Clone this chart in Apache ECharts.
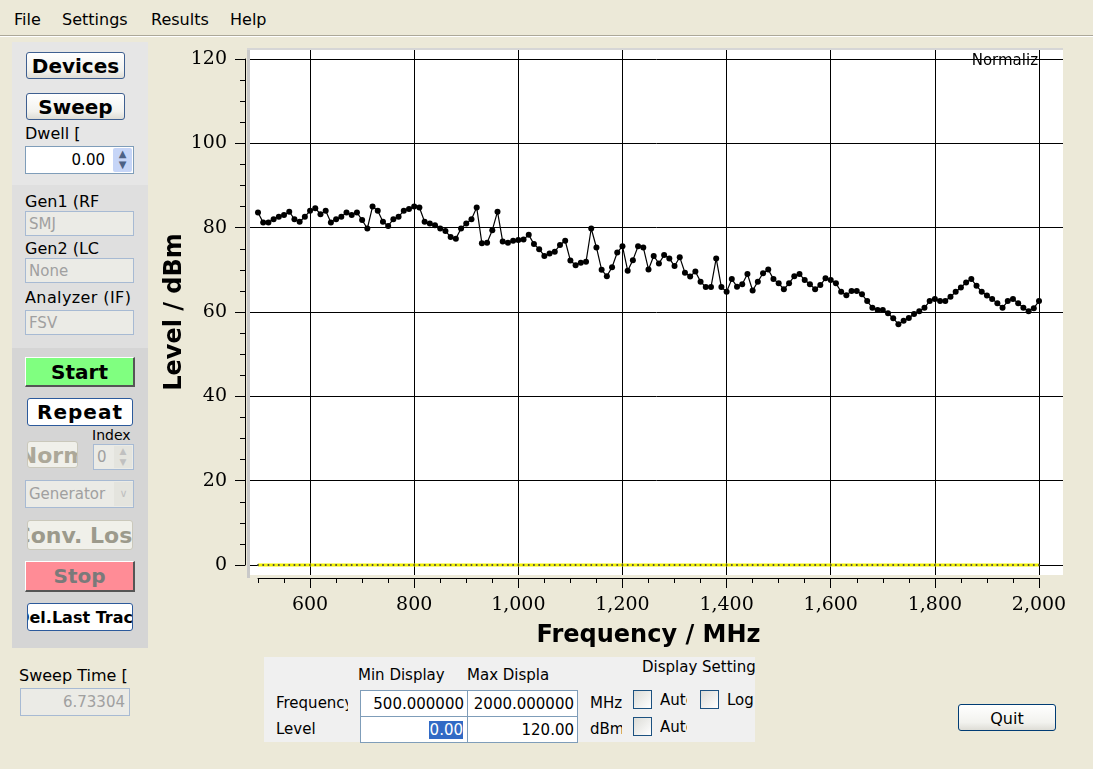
<!DOCTYPE html>
<html>
<head>
<meta charset="utf-8">
<script src="https://cdn.jsdelivr.net/npm/echarts@6.0.0/dist/echarts.min.js"></script>
<style>
  html, body { margin:0; padding:0; }
  body { width:1093px; height:769px; overflow:hidden; background:#ECE9D8; position:relative;
         font-family:"DejaVu Sans", sans-serif; color:#000; }
  .abs { position:absolute; white-space:nowrap; }
  .menu { top:10px; font-size:16px; }
  .menubar { position:absolute; left:0; top:35px; width:1093px; height:0; border-top:1px solid #ACA899; border-bottom:1px solid #fff; }
  .lbl { font-size:15px; line-height:18px; }
  .plbl { font-size:16px; line-height:18px; }
  .btn, .btn3d, .dis { position:absolute; box-sizing:border-box; overflow:hidden; white-space:nowrap;
         font-weight:bold; font-size:20px; }
  .btn { border:1px solid #3E5F90; border-radius:3px; background:linear-gradient(#FFFFFF, #F2F2EE 70%, #DEDDD6); }
  .btn3d { border-top:1px solid #fff; border-left:1px solid #fff; border-right:2px solid #555; border-bottom:2px solid #555; }
  .dis { border:1px solid #CAC8BB; border-radius:3px; background:#F0F0EA; color:#ACA899; font-size:22px; }
  .ctr { position:absolute; left:50%; top:50%; transform:translate(-50%,-50%); white-space:nowrap; }
  .box { position:absolute; box-sizing:border-box; border:1px solid #7F9DB9; background:#fff; font-size:15px;
         overflow:hidden; white-space:nowrap; display:flex; align-items:center; }
  .dbox { position:absolute; box-sizing:border-box; border:1px solid #A7BAD3; background:#EBEBE6; color:#A0A0A0;
          font-size:15px; overflow:hidden; white-space:nowrap; display:flex; align-items:center; padding-left:3px; }
  .chk { position:absolute; box-sizing:border-box; width:19px; height:19px; border:1px solid #1C5180;
         background:linear-gradient(135deg,#DCDCD7,#FFFFFF); }
  #chart { position:absolute; left:0; top:0; width:1093px; height:769px; z-index:2; }
</style>
</head>
<body>
<!-- menu -->
<div class="abs menu" style="left:14px;">File</div>
<div class="abs menu" style="left:62px;">Settings</div>
<div class="abs menu" style="left:151px;">Results</div>
<div class="abs menu" style="left:230px;">Help</div>
<div class="menubar"></div>

<!-- plot frame bevel -->
<div class="abs" style="left:247px;top:48px;width:3px;height:530px;background:#C9C9C9;"></div>
<div class="abs" style="left:247px;top:48px;width:816px;height:2px;background:#D6D6D6;"></div>

<!-- left panel -->
<div class="abs" style="left:12px;top:42px;width:136px;height:143px;background:#E6E6E6;"></div>
<div class="abs" style="left:12px;top:185px;width:136px;height:163px;background:#DFDFDF;"></div>
<div class="abs" style="left:12px;top:348px;width:136px;height:300px;background:#D5D5D5;"></div>

<div class="btn" style="left:26px;top:52px;width:99px;height:27px;"><span class="ctr">Devices</span></div>
<div class="btn" style="left:26px;top:93px;width:99px;height:27px;"><span class="ctr">Sweep</span></div>
<div class="abs plbl" style="left:25px;top:125px;">Dwell [</div>
<div class="box" style="left:25px;top:146px;width:109px;height:28px;justify-content:flex-end;padding-right:28px;">0.00</div>
<div class="abs" style="left:113px;top:148px;width:19px;height:24px;background:#C6D5F7;border-radius:2px;font-size:10px;line-height:11px;text-align:center;color:#4D6185;">&#9650;<br>&#9660;</div>

<div class="abs plbl" style="left:25px;top:193px;">Gen1 (RF</div>
<div class="dbox" style="left:25px;top:211px;width:109px;height:25px;">SMJ</div>
<div class="abs plbl" style="left:25px;top:240px;">Gen2 (LC</div>
<div class="dbox" style="left:25px;top:258px;width:109px;height:25px;">None</div>
<div class="abs plbl" style="left:25px;top:289px;width:109px;overflow:hidden;letter-spacing:0.4px;">Analyzer (IF)</div>
<div class="dbox" style="left:25px;top:310px;width:109px;height:25px;">FSV</div>

<div class="btn3d" style="left:25px;top:357px;width:110px;height:30px;background:#80FF80;"><span class="ctr">Start</span></div>
<div class="btn" style="left:27px;top:398px;width:106px;height:28px;background:#fff;border-color:#2C5A9C;letter-spacing:1px;"><span class="ctr">Repeat</span></div>
<div class="abs" style="left:92px;top:427px;font-size:14px;">Index</div>
<div class="dis" style="left:27px;top:441px;width:51px;height:27px;"><span class="ctr">Norm</span></div>
<div class="dbox" style="left:93px;top:444px;width:41px;height:26px;">0</div>
<div class="abs" style="left:114px;top:446px;width:18px;height:22px;background:#E4E4DE;font-size:9px;line-height:11px;text-align:center;color:#C0C0C0;">&#9650;<br>&#9660;</div>
<div class="dbox" style="left:25px;top:480px;width:109px;height:28px;">Generator</div>
<div class="abs" style="left:114px;top:482px;width:19px;height:24px;background:#E4E4DE;font-size:11px;line-height:24px;text-align:center;color:#C0C0C0;">&#8744;</div>
<div class="dis" style="left:27px;top:520px;width:106px;height:30px;color:#9C9A8C;"><span class="ctr">Conv. Loss</span></div>
<div class="btn3d" style="left:25px;top:561px;width:110px;height:31px;background:#FF8C96;color:#7A7A7A;"><span class="ctr">Stop</span></div>
<div class="btn" style="left:27px;top:603px;width:106px;height:28px;background:#fff;border-color:#2C5A9C;font-size:16px;"><span class="ctr">Del.Last Trace</span></div>

<div class="abs" style="left:19px;top:666px;font-size:16px;">Sweep Time [</div>
<div class="dbox" style="left:20px;top:688px;width:110px;height:28px;justify-content:flex-end;padding-right:4px;">6.73304</div>

<!-- bottom settings panel -->
<div class="abs" style="left:264px;top:657px;width:491px;height:85px;background:#F0F0F0;"></div>
<div class="abs lbl" style="left:358px;top:666px;width:100px;overflow:hidden;">Min Display</div>
<div class="abs lbl" style="left:467px;top:666px;">Max Displa</div>
<div class="abs lbl" style="left:642px;top:658px;width:113px;overflow:hidden;">Display Settings</div>
<div class="abs lbl" style="left:276px;top:694px;width:72px;overflow:hidden;">Frequency</div>
<div class="abs lbl" style="left:276px;top:720px;">Level</div>
<div class="box" style="left:360px;top:690px;width:108px;height:27px;justify-content:flex-end;padding-right:3px;">500.000000</div>
<div class="box" style="left:467px;top:690px;width:111px;height:27px;justify-content:flex-end;padding-right:3px;">2000.000000</div>
<div class="box" style="left:360px;top:716px;width:108px;height:27px;justify-content:flex-end;padding-right:4px;"><span style="background:#316AC5;color:#fff;padding-left:1px;">0.00</span></div>
<div class="box" style="left:467px;top:716px;width:111px;height:27px;justify-content:flex-end;padding-right:3px;">120.00</div>
<div class="abs lbl" style="left:590px;top:694px;width:32px;overflow:hidden;">MHz</div>
<div class="abs lbl" style="left:590px;top:720px;width:32px;overflow:hidden;">dBm</div>
<div class="chk" style="left:633px;top:690px;"></div>
<div class="abs lbl" style="left:660px;top:691px;width:27px;overflow:hidden;">Auto</div>
<div class="chk" style="left:700px;top:690px;"></div>
<div class="abs lbl" style="left:727px;top:691px;width:28px;overflow:hidden;">Log</div>
<div class="chk" style="left:633px;top:717px;"></div>
<div class="abs lbl" style="left:660px;top:718px;width:27px;overflow:hidden;">Auto</div>

<div class="btn" style="left:958px;top:704px;width:98px;height:27px;font-weight:normal;font-size:16px;border-color:#003C74;"><span class="ctr">Quit</span></div>

<div id="chart"></div>

<script>
// ---- data ----
const freqMHz = [
  500,510,520,530,540,550,560,570,580,590,
  600,610,620,630,640,650,660,670,680,690,
  700,710,720,730,740,750,760,770,780,790,
  800,810,820,830,840,850,860,870,880,890,
  900,910,920,930,940,950,960,970,980,990,
  1000,1010,1020,1030,1040,1050,1060,1070,1080,1090,
  1100,1110,1120,1130,1140,1150,1160,1170,1180,1190,
  1200,1210,1220,1230,1240,1250,1260,1270,1280,1290,
  1300,1310,1320,1330,1340,1350,1360,1370,1380,1390,
  1400,1410,1420,1430,1440,1450,1460,1470,1480,1490,
  1500,1510,1520,1530,1540,1550,1560,1570,1580,1590,
  1600,1610,1620,1630,1640,1650,1660,1670,1680,1690,
  1700,1710,1720,1730,1740,1750,1760,1770,1780,1790,
  1800,1810,1820,1830,1840,1850,1860,1870,1880,1890,
  1900,1910,1920,1930,1940,1950,1960,1970,1980,1990,
  2000
];
const levelDbm = [
  83.6,81.2,81.2,82.0,82.6,83.0,83.8,82.0,81.4,82.6,
  84.0,84.6,83.2,84.0,81.2,82.0,82.6,83.6,83.0,83.6,
  81.8,79.8,85.0,84.0,81.4,80.4,82.0,82.6,84.0,84.4,
  85.0,84.8,81.4,81.0,80.6,79.8,79.2,77.8,77.4,79.8,
  81.0,82.0,84.8,76.3,76.4,79.4,83.8,76.7,76.4,76.9,
  77.1,77.2,78.3,76.1,74.9,73.3,73.9,74.3,75.9,76.9,
  72.2,71.1,71.7,71.9,79.8,75.3,70.0,68.5,70.6,74.1,
  75.6,69.8,72.3,75.6,75.3,70.1,73.3,71.5,73.5,72.7,
  70.9,73.0,69.3,68.4,69.6,67.2,65.9,65.9,72.7,65.9,
  64.8,67.8,66.0,66.6,69.0,65.1,67.2,69.2,70.1,67.8,
  66.8,65.4,66.8,68.5,69.0,67.6,66.6,65.4,66.4,68.0,
  67.6,66.8,64.8,64.0,65.0,65.0,64.2,62.6,61.0,60.5,
  60.5,59.7,58.5,57.1,57.9,58.6,59.5,60.2,61.0,62.6,
  63.1,62.6,62.6,63.6,64.8,65.8,67.0,67.8,66.2,64.8,
  63.9,63.1,62.1,61.0,62.6,63.1,62.1,61.0,60.2,60.9,
  62.6
];
const normalizedDbm = [
  0,0,0,0,0,0,0,0,0,0, 0,0,0,0,0,0,0,0,0,0,
  0,0,0,0,0,0,0,0,0,0, 0,0,0,0,0,0,0,0,0,0,
  0,0,0,0,0,0,0,0,0,0, 0,0,0,0,0,0,0,0,0,0,
  0,0,0,0,0,0,0,0,0,0, 0,0,0,0,0,0,0,0,0,0,
  0,0,0,0,0,0,0,0,0,0, 0,0,0,0,0,0,0,0,0,0,
  0,0,0,0,0,0,0,0,0,0, 0,0,0,0,0,0,0,0,0,0,
  0,0,0,0,0,0,0,0,0,0, 0,0,0,0,0,0,0,0,0,0,
  0,0,0,0,0,0,0,0,0,0, 0,0,0,0,0,0,0,0,0,0,
  0
];
const xMajorTicks = [600, 800, 1000, 1200, 1400, 1600, 1800, 2000];
const yMajorTicks = [0, 20, 40, 60, 80, 100, 120];
const xTitle = 'Frequency / MHz';
const yTitle = 'Level / dBm';
const cornerNote = 'Normaliz';

// ---- chart ----
const chart = echarts.init(document.getElementById('chart'), null, {renderer: 'canvas'});
const pairs = (xs, ys) => xs.map((x, i) => [x, ys[i]]);
const labelFont = {fontFamily: 'DejaVu Serif', fontSize: 19, color: '#000'};
const titleFont = {fontFamily: 'DejaVu Sans', fontWeight: 'bold', fontSize: 24, color: '#000'};

chart.setOption({
  animation: false,
  backgroundColor: 'transparent',
  grid: [
    {left: 250, top: 50, width: 813, height: 525, show: true, backgroundColor: '#fff', borderWidth: 0},
    {left: 258, top: 577, width: 781, height: 1},
    {left: 245, top: 59, width: 1, height: 506}
  ],
  xAxis: [
    {gridIndex: 0, type: 'value', min: 484.64, max: 2046.09,
     axisLine: {show: false}, axisLabel: {show: false},
     axisTick: {show: false, customValues: xMajorTicks},
     splitLine: {show: true, lineStyle: {color: '#000', width: 1}}},
    {gridIndex: 1, type: 'value', min: 500, max: 2000, position: 'bottom',
     axisLine: {show: true, lineStyle: {color: '#000', width: 1}},
     axisTick: {show: true, length: 10, customValues: xMajorTicks, lineStyle: {color: '#000'}},
     axisLabel: {show: true, customValues: xMajorTicks, margin: 18, ...labelFont,
                 formatter: v => Number(v).toLocaleString('en-US')},
     splitLine: {show: false},
     name: xTitle, nameLocation: 'middle', nameGap: 46, nameTextStyle: titleFont},
    {gridIndex: 1, type: 'value', min: 500, max: 2000, interval: 50, position: 'bottom',
     axisLine: {show: false}, axisLabel: {show: false},
     axisTick: {show: true, length: 5, lineStyle: {color: '#000'}},
     splitLine: {show: false}},
    {gridIndex: 2, type: 'value', min: 0, max: 1, show: false}
  ],
  yAxis: [
    {gridIndex: 0, type: 'value', min: -2.372, max: 122.134,
     axisLine: {show: false}, axisLabel: {show: false},
     axisTick: {show: false, customValues: yMajorTicks},
     splitLine: {show: true, lineStyle: {color: '#000', width: 1}}},
    {gridIndex: 1, type: 'value', min: 0, max: 1, show: false},
    {gridIndex: 2, type: 'value', min: 0, max: 120, interval: 20, position: 'left',
     axisLine: {show: true, lineStyle: {color: '#000', width: 1}},
     axisTick: {show: true, length: 10, lineStyle: {color: '#000'}},
     minorTick: {show: true, splitNumber: 4, length: 5, lineStyle: {color: '#000'}},
     axisLabel: {margin: 18, ...labelFont},
     splitLine: {show: false},
     name: yTitle, nameLocation: 'middle', nameGap: 56, nameRotate: 90, nameTextStyle: titleFont}
  ],
  graphic: [
    {type: 'text', right: 1093 - 1038, top: 54, z: 10,
     style: {text: cornerNote, font: '15px "DejaVu Sans"', fill: '#000'}}
  ],
  series: [
    {type: 'line', xAxisIndex: 0, yAxisIndex: 0, data: pairs(freqMHz, normalizedDbm), z: 3,
     lineStyle: {color: '#F2F200', width: 3}, symbol: 'circle', symbolSize: 2,
     itemStyle: {color: '#444'}, silent: true},
    {type: 'line', xAxisIndex: 0, yAxisIndex: 0, data: pairs(freqMHz, levelDbm), z: 4,
     lineStyle: {color: '#000', width: 1.2}, symbol: 'circle', symbolSize: 6,
     itemStyle: {color: '#000'}, silent: true}
  ]
});
</script>
</body>
</html>
